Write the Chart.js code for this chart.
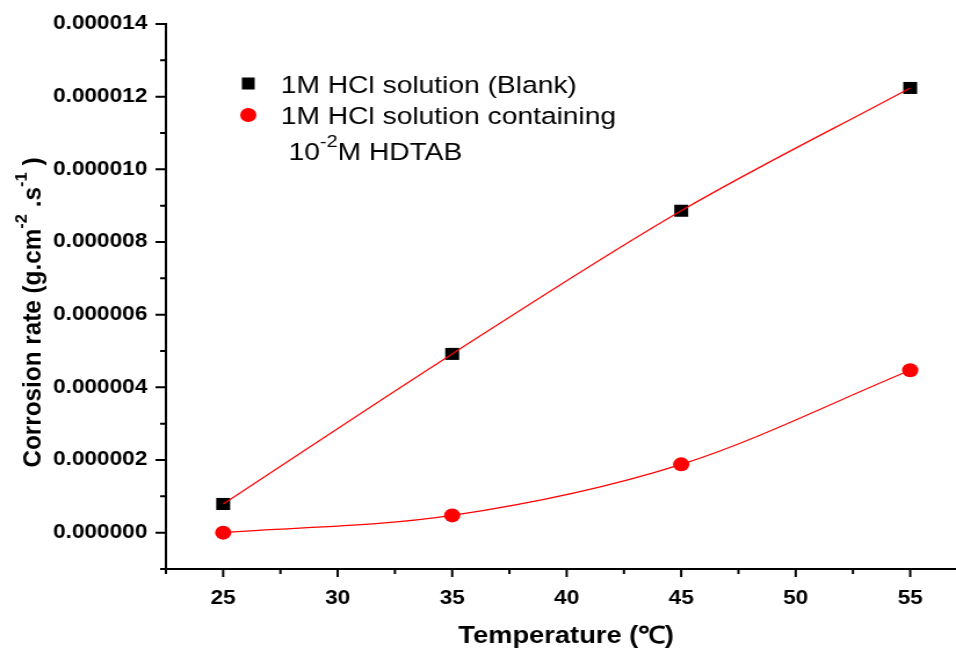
<!DOCTYPE html>
<html>
<head>
<meta charset="utf-8">
<script src="https://cdn.jsdelivr.net/npm/chart.js@4.4.1/dist/chart.umd.min.js"></script>
<style>
  html, body { margin: 0; padding: 0; background: #fff; overflow: hidden; }
  #chart { display: block; width: 956px; height: 649px; }
</style>
</head>
<body>
<!-- drawn at 824px wide and stretched to 956px, like the original figure -->
<canvas id="chart" width="824" height="649" style="width:956px;height:649px"></canvas>
<script>
const temperatures = [25, 35, 45, 55];
const blankRate = [0.79e-6, 4.92e-6, 8.86e-6, 12.24e-6];
const hdtabRate = [0.0, 0.475e-6, 1.88e-6, 4.47e-6];

const xMajorTicks = [25, 30, 35, 40, 45, 50, 55];
const xMinorTicks = [22.5, 27.5, 32.5, 37.5, 42.5, 47.5, 52.5];
const yMajorTicks = [0, 2e-6, 4e-6, 6e-6, 8e-6, 10e-6, 12e-6, 14e-6];
const yMinorTicks = [-1e-6, 1e-6, 3e-6, 5e-6, 7e-6, 9e-6, 11e-6, 13e-6];

const legendLabels = ['1M HCl solution (Blank)', '1M HCl solution containing'];
const legendExtra = [{ t: ' 10', sup: false }, { t: '-2', sup: true }, { t: 'M HDTAB', sup: false }];
const xTitle = 'Temperature (\u2103)';
const yTitle = [
  { t: 'Corrosion rate (g.cm', sup: false },
  { t: '-2', sup: true },
  { t: ' .s', sup: false },
  { t: '-1', sup: true },
  { t: ' )', sup: false }
];

const FONT = "'Liberation Sans', Arial, Helvetica, sans-serif";
const RED = '#ff0000';

const toPoints = (xs, ys) => xs.map((x, i) => ({ x, y: ys[i] }));

function drawRich(ctx, parts, x, y, size, weight, targetLen) {
  const supSize = Math.round(size * 0.68);
  const widths = parts.map(p => {
    ctx.font = `${weight} ${p.sup ? supSize : size}px ${FONT}`;
    return ctx.measureText(p.t).width;
  });
  const total = widths.reduce((a, b) => a + b, 0);
  const k = targetLen ? targetLen / total : 1;
  ctx.save();
  ctx.translate(x, y);
  ctx.scale(k, 1);
  let cx = targetLen ? -total / 2 : 0;
  ctx.textBaseline = 'alphabetic';
  ctx.textAlign = 'left';
  parts.forEach((p, i) => {
    ctx.font = `${weight} ${p.sup ? supSize : size}px ${FONT}`;
    ctx.fillText(p.t, cx, p.sup ? -size * 0.55 : 0);
    cx += widths[i];
  });
  ctx.restore();
}

const decorPlugin = {
  id: 'decor',
  afterDraw(chart) {
    const { ctx, chartArea, scales } = chart;
    const xs = scales.x, ys = scales.y;
    ctx.save();
    ctx.strokeStyle = '#000';
    ctx.lineWidth = 2;
    ctx.beginPath();
    xMajorTicks.forEach(v => { const p = xs.getPixelForValue(v); ctx.moveTo(p, chartArea.bottom); ctx.lineTo(p, chartArea.bottom + 8); });
    xMinorTicks.forEach(v => { const p = xs.getPixelForValue(v); ctx.moveTo(p, chartArea.bottom); ctx.lineTo(p, chartArea.bottom + 5); });
    yMajorTicks.forEach(v => { const p = ys.getPixelForValue(v); ctx.moveTo(chartArea.left, p); ctx.lineTo(chartArea.left - 9, p); });
    yMinorTicks.forEach(v => { const p = ys.getPixelForValue(v); ctx.moveTo(chartArea.left, p); ctx.lineTo(chartArea.left - 5, p); });
    ctx.stroke();

    // legend
    ctx.fillStyle = '#000';
    ctx.fillRect(214 - 5.5, 83.5 - 6, 11, 12);
    ctx.fillStyle = RED;
    ctx.beginPath();
    ctx.arc(214, 115, 7, 0, Math.PI * 2);
    ctx.fill();
    ctx.fillStyle = '#000';
    ctx.font = `normal 24.3px ${FONT}`;
    ctx.textAlign = 'left';
    ctx.textBaseline = 'alphabetic';
    ctx.fillText(legendLabels[0], 242, 92.5);
    ctx.fillText(legendLabels[1], 242, 124);
    drawRich(ctx, legendExtra, 242, 160, 24.3, 'normal');

    // axis titles
    ctx.save();
    ctx.translate(35, (chartArea.top + chartArea.bottom) / 2 + 16);
    ctx.rotate(-Math.PI / 2);
    drawRich(ctx, yTitle, 0, 0, 22, 'bold', 310);
    ctx.restore();

    ctx.font = `bold 23.5px ${FONT}`;
    ctx.textAlign = 'center';
    ctx.fillText(xTitle, 488, 643);
    ctx.restore();
  }
};

new Chart(document.getElementById('chart'), {
  type: 'scatter',
  data: {
    datasets: [
      {
        label: 'Blank fit',
        data: toPoints(temperatures, blankRate),
        showLine: true,
        cubicInterpolationMode: 'monotone',
        borderColor: RED,
        borderWidth: 1.2,
        pointRadius: 0,
        order: 0
      },
      {
        label: 'HDTAB fit',
        data: toPoints(temperatures, hdtabRate),
        showLine: true,
        cubicInterpolationMode: 'monotone',
        borderColor: RED,
        borderWidth: 1.2,
        pointRadius: 0,
        order: 0
      },
      {
        label: '1M HCl solution (Blank)',
        data: toPoints(temperatures, blankRate),
        pointStyle: 'rect',
        pointRadius: 8.5,
        backgroundColor: '#000',
        borderWidth: 0,
        order: 1
      },
      {
        label: '1M HCl solution containing 10-2M HDTAB',
        data: toPoints(temperatures, hdtabRate),
        pointStyle: 'circle',
        pointRadius: 7,
        backgroundColor: RED,
        borderWidth: 0,
        order: 1
      }
    ]
  },
  options: {
    responsive: false,
    animation: false,
    devicePixelRatio: 1,
    layout: { autoPadding: false, padding: { top: 24, right: 0, bottom: 0, left: 0 } },
    plugins: { legend: { display: false }, tooltip: { enabled: false } },
    scales: {
      x: {
        type: 'linear',
        min: 22.5,
        max: 57,
        afterBuildTicks: s => { s.ticks = xMajorTicks.map(v => ({ value: v })); },
        afterFit: s => { s.height = 80; s.paddingLeft = 0; s.paddingRight = 0; },
        grid: { drawOnChartArea: false, drawTicks: false },
        border: { display: true, color: '#000', width: 2 },
        ticks: {
          padding: 18,
          color: '#000',
          font: { family: FONT, size: 19.5, weight: 'bold' },
          callback: v => String(v)
        }
      },
      y: {
        type: 'linear',
        min: -1e-6,
        max: 14e-6,
        afterBuildTicks: s => { s.ticks = yMajorTicks.map(v => ({ value: v })); },
        afterFit: s => { s.width = 143; s.paddingTop = 0; s.paddingBottom = 0; },
        grid: { drawOnChartArea: false, drawTicks: false },
        border: { display: true, color: '#000', width: 2 },
        ticks: {
          padding: 16,
          color: '#000',
          font: { family: FONT, size: 19.5, weight: 'bold' },
          callback: v => v.toFixed(6)
        }
      }
    }
  },
  plugins: [decorPlugin]
});
</script>
</body>
</html>
